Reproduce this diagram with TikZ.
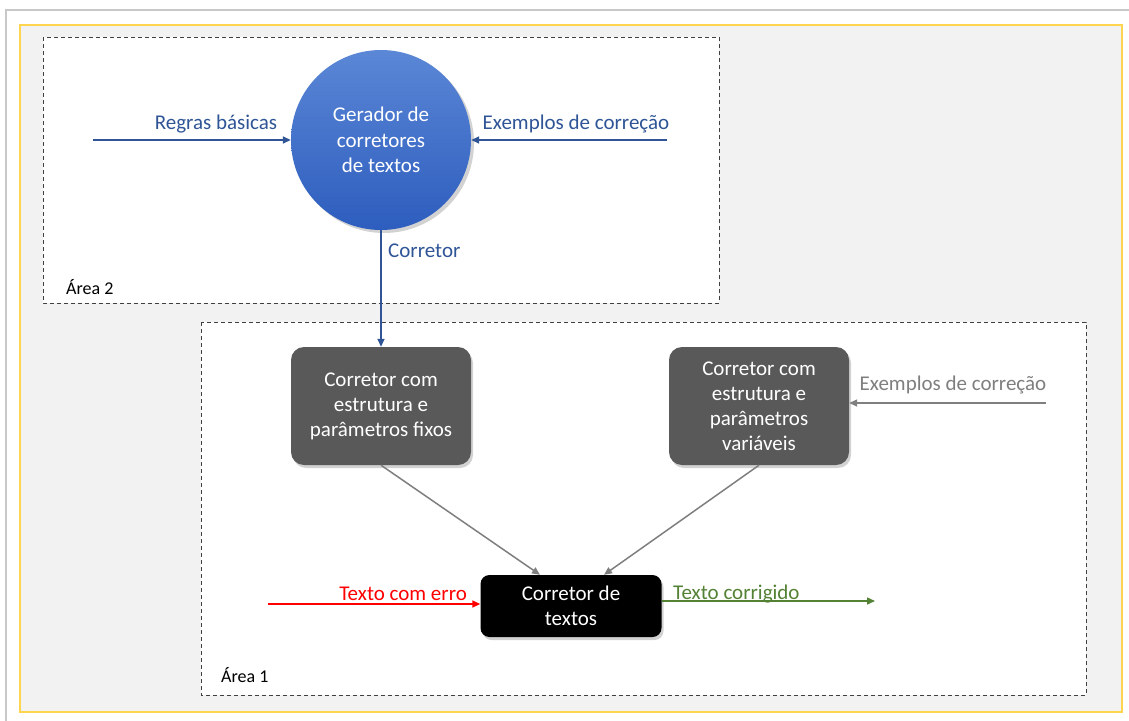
\documentclass[tikz,border=0pt]{standalone}
\usepackage{fontspec}
\setmainfont{Carlito}
\usetikzlibrary{arrows.meta,shadows,calc}

\definecolor{frameGray}{HTML}{C8C8C8}
\definecolor{panelFill}{HTML}{F2F2F2}
\definecolor{panelEdge}{HTML}{FFD54F}
\definecolor{areaEdge}{HTML}{404040}
\definecolor{flowBlue}{HTML}{2F5597}
\definecolor{discTop}{HTML}{5B87D6}
\definecolor{discBot}{HTML}{2D5DBE}
\definecolor{boxGray}{HTML}{595959}
\definecolor{lineGray}{HTML}{7F7F7F}
\definecolor{outGreen}{HTML}{548235}

\tikzset{
  lbl/.style={font=\fontsize{21}{25.5}\selectfont, inner sep=0pt},
  smalllbl/.style={font=\fontsize{18}{21}\selectfont, inner sep=0pt},
  area/.style={draw=areaEdge, fill=white, line width=0.9pt, dash pattern=on 4pt off 3pt},
  tip/.style={-{Triangle[length=8pt,width=7pt]}, line width=1.5pt},
  procbox/.style={rounded corners=13pt, fill=boxGray, text=white, align=center,
    minimum width=180pt, minimum height=118pt, inner sep=0pt,
    font=\fontsize{21}{25}\selectfont,
    drop shadow={opacity=0.35, shadow xshift=2pt, shadow yshift=-3pt}},
  mainbox/.style={procbox, fill=black, minimum width=181pt, minimum height=62pt, rounded corners=9pt},
  disc/.style={circle, minimum size=180pt, inner sep=0pt, align=center, text=white,
    top color=discTop, bottom color=discBot, font=\fontsize{21}{25.5}\selectfont,
    drop shadow={opacity=0.35, shadow xshift=3pt, shadow yshift=-3pt}},
}

\begin{document}
\begin{tikzpicture}[x=1pt, y=-1pt]
  \useasboundingbox (0,0) rectangle (1129,720);
  \fill[white] (0,0) rectangle (1129,720);

  % page frame and panel
  \draw[frameGray, line width=2pt] (6,721) -- (6,10) -- (1130,10);
  \draw[panelEdge, fill=panelFill, line width=1.5pt] (20,25) rectangle (1122,712);

  % the two areas
  \draw[area] (43,37) rectangle (719,303);
  \draw[area] (201,322) rectangle (1086,695);
  \node[smalllbl, anchor=west] (a2) at (66,287) {Área 2};
  \node[smalllbl, anchor=west] (a1) at (221,675) {Área 1};

  % Área 2: generator
  \node[disc] (gen) at (381,140) {Gerador de\\corretores\\de textos};
  \coordinate (rbIn) at (93,140);
  \coordinate (exIn) at (667,140);
  \draw[tip, flowBlue] (rbIn) -- (gen.west);
  \draw[tip, flowBlue] (exIn) -- (gen.east);
  \node[lbl, text=flowBlue] (rbLbl) at (216,124) {Regras básicas};
  \node[lbl, text=flowBlue] (exLbl) at (576,124) {Exemplos de correção};

  % Área 1: correctors
  \node[procbox] (fix) at (381,406) {Corretor com\\estrutura e\\parâmetros fixos};
  \node[procbox] (var) at (759,406) {Corretor com\\estrutura e\\parâmetros\\variáveis};
  \node[mainbox] (cor) at (571,606) {Corretor de\\textos};

  \draw[tip, flowBlue] (gen.south) -- (fix.north);
  \node[lbl, text=flowBlue, anchor=west] (corLbl) at (388,251) {Corretor};

  \coordinate (ex2In) at (1046,403);
  \draw[tip, lineGray] (ex2In) -- (var.east |- ex2In);
  \node[lbl, text=lineGray] (ex2Lbl) at (953,385) {Exemplos de correção};

  \draw[tip, lineGray] (fix.south) -- ($(cor.north)+(-31,0)$);
  \draw[tip, lineGray] (var.south) -- ($(cor.north)+(33,0)$);

  \coordinate (txtIn) at (268,604);
  \coordinate (txtOut) at (875,601);
  \draw[tip, red] (txtIn) -- (cor.west |- txtIn);
  \draw[tip, outGreen] (cor.east |- txtOut) -- (txtOut);
  \node[lbl, text=red, anchor=east] (inLbl) at (467,594) {Texto com erro};
  \node[lbl, text=outGreen, anchor=west] (outLbl) at (673,594) {Texto corrigido};
\end{tikzpicture}
\end{document}
